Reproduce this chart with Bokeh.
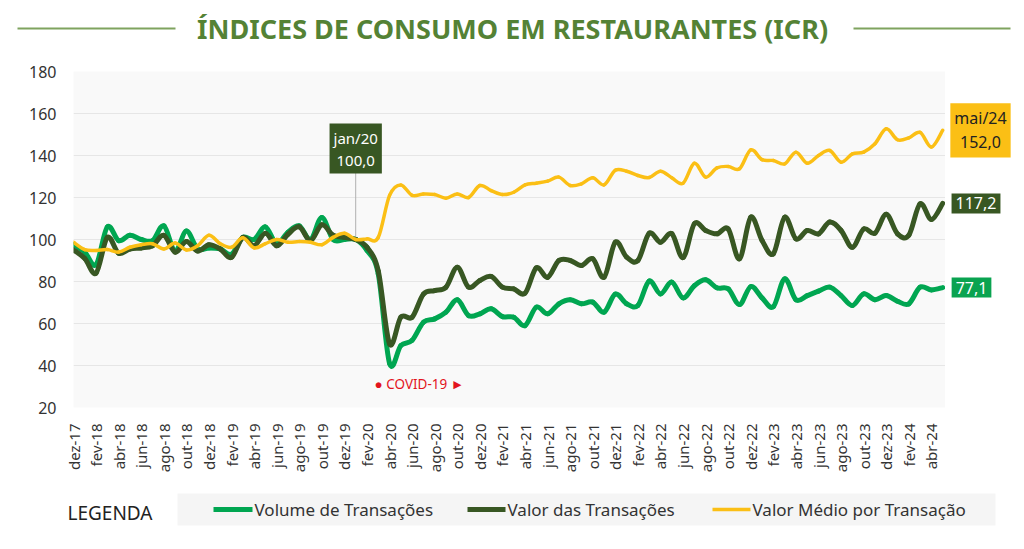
from bokeh.plotting import figure
from bokeh.layouts import column, row
from bokeh.models import Range1d, FixedTicker, Label, BoxAnnotation
from bokeh.core.properties import value
from bokeh.embed import file_html
from bokeh.resources import INLINE

# ---------------- data ----------------
months = [
    "dez-17",
    "jan-18", "fev-18", "mar-18", "abr-18", "mai-18", "jun-18", "jul-18", "ago-18", "set-18", "out-18", "nov-18", "dez-18",
    "jan-19", "fev-19", "mar-19", "abr-19", "mai-19", "jun-19", "jul-19", "ago-19", "set-19", "out-19", "nov-19", "dez-19",
    "jan-20", "fev-20", "mar-20", "abr-20", "mai-20", "jun-20", "jul-20", "ago-20", "set-20", "out-20", "nov-20", "dez-20",
    "jan-21", "fev-21", "mar-21", "abr-21", "mai-21", "jun-21", "jul-21", "ago-21", "set-21", "out-21", "nov-21", "dez-21",
    "jan-22", "fev-22", "mar-22", "abr-22", "mai-22", "jun-22", "jul-22", "ago-22", "set-22", "out-22", "nov-22", "dez-22",
    "jan-23", "fev-23", "mar-23", "abr-23", "mai-23", "jun-23", "jul-23", "ago-23", "set-23", "out-23", "nov-23", "dez-23",
    "jan-24", "fev-24", "mar-24", "abr-24", "mai-24",
]

volume_transacoes = [
    97.5, 94.0, 88.0, 106.0, 99.5, 102.0, 100.0, 99.5, 106.5, 94.5, 104.0, 95.5, 96.0,
    95.5, 93.0, 101.0, 100.0, 106.0, 98.0, 103.5, 106.5, 100.0, 110.5, 100.0, 100.0,
    100.0, 94.8, 83.6, 41.0, 49.5, 52.0, 60.6, 62.2, 65.4, 71.3, 63.8, 64.6,
    67.0, 63.3, 63.0, 59.0, 67.8, 64.6, 69.4, 71.3, 69.4, 70.2, 65.4, 74.0,
    69.4, 68.6, 80.2, 74.1, 79.7, 72.2, 78.0, 80.8, 77.0, 76.5, 69.0, 77.6,
    72.2, 68.0, 81.3, 71.3, 73.3, 75.4, 77.3, 73.3, 68.6, 74.1, 71.3, 73.3,
    70.6, 69.4, 77.3, 76.0, 77.1,
]

valor_transacoes = [
    95.0, 91.0, 84.0, 101.0, 93.5, 95.5, 96.0, 97.0, 102.0, 94.0, 99.0, 94.5, 97.5,
    95.5, 91.5, 101.0, 97.0, 103.0, 97.0, 102.5, 106.0, 99.5, 107.0, 102.0, 101.0,
    100.0, 96.3, 85.0, 50.3, 63.0, 63.0, 74.0, 75.7, 77.3, 86.8, 77.3, 80.5,
    82.4, 77.3, 76.5, 74.4, 86.5, 82.0, 90.0, 90.0, 87.6, 90.8, 82.0, 98.7,
    91.6, 90.0, 103.0, 98.7, 102.8, 91.4, 107.5, 104.3, 102.7, 105.0, 90.8, 110.6,
    99.5, 93.2, 110.6, 100.3, 104.3, 102.7, 108.3, 104.3, 96.3, 105.0, 103.0, 112.0,
    102.7, 102.0, 117.0, 109.5, 117.2,
]

valor_medio = [
    98.7, 95.2, 94.8, 95.2, 94.0, 96.3, 97.5, 98.0, 95.5, 98.3, 95.0, 97.0, 102.0,
    98.0, 96.3, 100.8, 96.0, 98.0, 100.0, 98.7, 99.0, 98.7, 97.5, 101.0, 103.0,
    100.0, 100.3, 101.0, 121.0, 126.0, 121.0, 121.7, 121.4, 119.7, 121.7, 120.0, 125.7,
    123.3, 121.4, 122.5, 126.0, 126.8, 127.8, 129.7, 125.7, 126.5, 129.4, 126.0, 133.0,
    132.5, 130.5, 129.5, 132.5, 129.4, 126.8, 136.3, 129.7, 134.1, 134.8, 133.7, 142.7,
    138.0, 137.6, 136.0, 141.6, 136.3, 140.0, 142.4, 136.8, 140.8, 141.6, 145.6, 152.7,
    147.5, 148.4, 151.0, 144.0, 152.0,
]

y_ticks = [20, 40, 60, 80, 100, 120, 140, 160, 180]
x_tick_labels = [
    "dez-17", "fev-18", "abr-18", "jun-18", "ago-18", "out-18", "dez-18", "fev-19", "abr-19", "jun-19",
    "ago-19", "out-19", "dez-19", "fev-20", "abr-20", "jun-20", "ago-20", "out-20", "dez-20", "fev-21",
    "abr-21", "jun-21", "ago-21", "out-21", "dez-21", "fev-22", "abr-22", "jun-22", "ago-22", "out-22",
    "dez-22", "fev-23", "abr-23", "jun-23", "ago-23", "out-23", "dez-23", "fev-24", "abr-24",
]
series_names = ["Volume de Transações", "Valor das Transações", "Valor Médio por Transação"]
title_text = "ÍNDICES DE CONSUMO EM RESTAURANTES (ICR)"
legend_title = "LEGENDA"
base_month = "jan-20"
covid_month = "abr-20"
covid_text = "● COVID-19 ►"

# ---------------- style ----------------
FONT = "Noto Sans"
C_VOL = "#00a651"
C_VAL = "#385723"
C_MED = "#fbbf15"
C_TITLE = "#548235"
TXT = "#333333"
series_colors = [C_VOL, C_VAL, C_MED]
series_widths = [5, 5, 3.5]


def fmt(v):
    return f"{v:.1f}".replace(".", ",")


def strip(width, height):
    f = figure(width=width, height=height, output_backend="svg", toolbar_location=None,
               x_range=Range1d(0, width), y_range=Range1d(0, height),
               x_axis_type=None, y_axis_type=None, min_border=0,
               background_fill_color="white", border_fill_color="white")
    f.outline_line_color = None
    return f


def smoothed(xs, ys):
    """Bezier segments between consecutive data points (Excel-style smoothed line)."""
    n = len(xs)
    d = dict(x0=[], y0=[], x1=[], y1=[], cx0=[], cy0=[], cx1=[], cy1=[])
    for i in range(n - 1):
        xm, ym = (xs[i - 1], ys[i - 1]) if i > 0 else (xs[i], ys[i])
        xp, yp = (xs[i + 2], ys[i + 2]) if i + 2 < n else (xs[i + 1], ys[i + 1])
        d["x0"].append(xs[i]); d["y0"].append(ys[i])
        d["x1"].append(xs[i + 1]); d["y1"].append(ys[i + 1])
        d["cx0"].append(xs[i] + (xs[i + 1] - xm) / 6); d["cy0"].append(ys[i] + (ys[i + 1] - ym) / 6)
        d["cx1"].append(xs[i + 1] - (xp - xs[i]) / 6); d["cy1"].append(ys[i + 1] - (yp - ys[i]) / 6)
    return d


x = list(range(len(months)))

# ---------------- title strip ----------------
pt = strip(1016, 55)
pt.text(x=[512], y=[27], text=[title_text], text_align="center", text_baseline="middle",
        text_font=value(FONT), text_font_size="27px", text_font_style="bold", text_color=C_TITLE)
for l, r in [(17, 175), (853, 1010)]:
    pt.add_layout(BoxAnnotation(left=l, right=r, bottom=26, top=28, fill_color="#7fa35f", fill_alpha=1,
                                line_color=None))

# ---------------- main chart ----------------
yr = Range1d(20, 180)
p = figure(width=945, height=420, output_backend="svg", toolbar_location=None,
           x_range=Range1d(0, 77.25), y_range=yr,
           min_border_left=73, min_border_right=0, min_border_top=16, min_border_bottom=68,
           background_fill_color="#f9f9f9", border_fill_color="white")
p.outline_line_color = None

p.yaxis.ticker = FixedTicker(ticks=y_ticks)
p.yaxis.axis_line_color = None
p.yaxis.major_tick_line_color = None
p.yaxis.minor_tick_line_color = None
p.yaxis.major_label_text_font = FONT
p.yaxis.major_label_text_font_size = "16px"
p.yaxis.major_label_text_color = TXT
p.yaxis.major_label_standoff = 11

tick_idx = [months.index(m) for m in x_tick_labels]
p.xaxis.ticker = FixedTicker(ticks=tick_idx)
p.xaxis.major_label_overrides = {i: months[i] for i in tick_idx}
p.xaxis.major_label_orientation = 3.14159265 / 2
p.xaxis.axis_line_color = None
p.xaxis.major_tick_line_color = None
p.xaxis.minor_tick_line_color = None
p.xaxis.major_label_text_font = FONT
p.xaxis.major_label_text_font_size = "15px"
p.xaxis.major_label_text_color = TXT
p.xaxis.major_label_standoff = 10

p.xgrid.visible = False
p.ygrid.grid_line_color = "#e6e6e6"
p.ygrid.grid_line_width = 1

bi = months.index(base_month)
p.segment(x0=[bi], y0=[valor_transacoes[bi]], x1=[bi], y1=[133], line_color="#b0b0b0", line_width=1)

for ys, c, w, name in zip([volume_transacoes, valor_transacoes, valor_medio], series_colors, series_widths,
                          series_names):
    p.bezier(line_color=c, line_width=w, line_cap="round", name=name, **smoothed(x, ys))

p.add_layout(Label(x=bi, y=valor_transacoes[bi], y_offset=91,
                   text=f"{base_month.replace('-', '/')}\n{fmt(valor_transacoes[bi])}",
                   text_align="center", text_baseline="middle", text_font=FONT, text_font_size="15px",
                   text_color="white", background_fill_color=C_VAL, padding=4, text_line_height=1.1))

ci = months.index(covid_month)
p.add_layout(Label(x=ci, y=31.4, x_offset=-15, text=covid_text, text_align="left", text_baseline="middle",
                   text_font=FONT, text_font_size="13.5px", text_color="#e3141e"))

# ---------------- end-value strip (shares the y scale) ----------------
pr = figure(width=71, height=420, output_backend="svg", toolbar_location=None,
            x_range=Range1d(0, 71), y_range=yr, x_axis_type=None, y_axis_type=None,
            min_border_left=0, min_border_right=0, min_border_top=16, min_border_bottom=68,
            background_fill_color="white", border_fill_color="white")
pr.outline_line_color = None
li = len(months) - 1
end_specs = [
    (valor_medio[li], f"{months[li].replace('-', '/')}\n{fmt(valor_medio[li])}", C_MED, "#222222", 35),
    (valor_transacoes[li], fmt(valor_transacoes[li]), C_VAL, "white", 30.5),
    (volume_transacoes[li], fmt(volume_transacoes[li]), "#0aa350", "white", 26),
]
for yv, txt, bg, fg, cx in end_specs:
    pr.add_layout(Label(x=cx, x_units="screen", y=yv, text=txt, text_align="center", text_baseline="middle",
                        text_font=FONT, text_font_size="16px", text_color=fg,
                        background_fill_color=bg, padding=4, text_line_height=1.1))

# ---------------- legend strip ----------------
pl = strip(1016, 66)
pl.text(x=[67], y=[29], text=[legend_title], text_align="left", text_baseline="middle",
        text_font=value(FONT), text_font_size="19px", text_color="#222222")
pl.quad(left=[177], right=[995], bottom=[16], top=[48], fill_color="#f5f5f5", line_color=None)
leg_x = [(213, 252), (467, 505), (712, 750)]
for (a, b), name, c, w in zip(leg_x, series_names, series_colors, series_widths):
    pl.segment(x0=[a], y0=[32], x1=[b], y1=[32], line_color=c, line_width=w)
    pl.text(x=[b + 2], y=[32], text=[name], text_align="left", text_baseline="middle",
            text_font=value(FONT), text_font_size="17px", text_color=TXT)

layout = column(pt, row(p, pr), pl)
open("out.html", "w").write(file_html(layout, INLINE))
